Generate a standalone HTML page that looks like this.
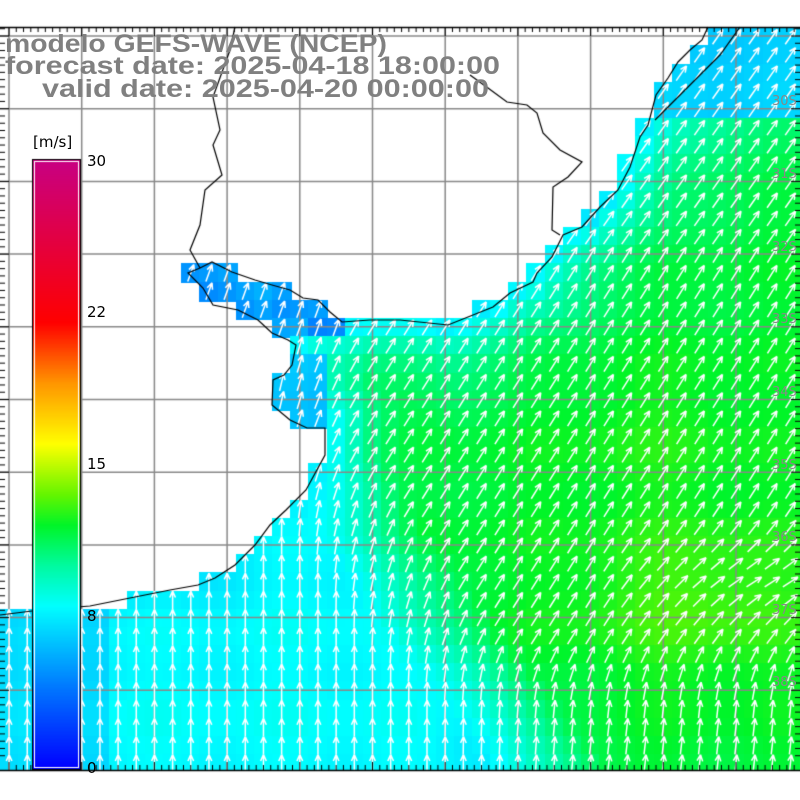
<!DOCTYPE html>
<html><head><meta charset="utf-8"><style>
html,body{margin:0;padding:0;background:#fff;width:800px;height:800px;overflow:hidden}
#c{position:absolute;left:0;top:0}
svg{position:absolute;left:0;top:0}
</style></head><body>
<canvas id="c" width="800" height="800"></canvas>
<svg width="800" height="800" xmlns="http://www.w3.org/2000/svg">
<g font-family="Liberation Sans, DejaVu Sans, sans-serif" font-weight="bold" font-size="25" fill="#808080">
<text x="5" y="52" textLength="382" lengthAdjust="spacingAndGlyphs">modelo GEFS-WAVE (NCEP)</text>
<text x="5" y="74" textLength="495" lengthAdjust="spacingAndGlyphs">forecast date: 2025-04-18 18:00:00</text>
<text x="42" y="97" textLength="447" lengthAdjust="spacingAndGlyphs">valid date: 2025-04-20 00:00:00</text>
</g>
<g font-family="DejaVu Sans, Liberation Sans, sans-serif" font-size="15" fill="#000">
<text x="33" y="147">[m/s]</text>
<text x="87" y="166">30</text>
<text x="87" y="317">22</text>
<text x="87" y="469">15</text>
<text x="87" y="621">8</text>
<text x="87" y="773">0</text>
</g>
<g font-family="DejaVu Sans, sans-serif" font-size="13" fill="#888">
<text x="772" y="105">30S</text><text x="772" y="178">31S</text><text x="772" y="251">32S</text>
<text x="772" y="323">33S</text><text x="772" y="396">34S</text><text x="772" y="469">35S</text>
<text x="772" y="541">36S</text><text x="772" y="614">37S</text><text x="772" y="686">38S</text>
</g>
</svg>
<script>
(function(){
const c=document.getElementById('c'),g=c.getContext('2d');
g.fillStyle='#fff';g.fillRect(0,0,800,800);
const land=[[0,27],[708,27],[702,40],[690,50],[678,62],[668,78],[656,95],[650,112],[642,128],[636,145],[628,162],[615,180],[598,195],[585,215],[567,235],[548,250],[538,265],[522,285],[505,295],[488,300],[465,314],[445,321],[400,320],[370,320],[342,322],[330,312],[318,300],[303,298],[290,290],[272,285],[255,280],[232,272],[212,262],[200,268],[188,273],[203,288],[213,305],[238,310],[258,320],[272,333],[288,340],[296,345],[292,365],[284,375],[273,380],[272,405],[290,420],[307,428],[325,428],[325,455],[306,490],[286,510],[270,525],[255,545],[235,565],[215,578],[198,585],[170,590],[130,598],[90,606],[40,610],[0,615]];
const coast=[[708,27],[702,40],[690,50],[678,62],[668,78],[656,95],[648,125],[640,137],[630,167],[618,190],[600,207],[582,227],[563,235],[552,257],[537,273],[533,282],[510,293],[493,307],[448,325],[400,320],[370,320],[342,322],[330,312],[318,300],[303,298],[290,290],[272,285],[255,280],[232,272],[212,262],[200,268],[188,273],[203,288],[213,305],[238,310],[258,320],[272,333],[288,340],[296,345],[292,365],[284,375],[273,380],[272,405],[290,420],[307,428],[325,428],[325,455],[306,490],[286,510],[270,525],[255,545],[235,565],[215,578],[198,585],[170,590],[130,598],[90,606],[40,610],[0,615]];
g.beginPath();g.moveTo(land[0][0],land[0][1]);for(const p of land)g.lineTo(p[0],p[1]);g.closePath();
function cl(v,a,b){return Math.max(a,Math.min(b,v))}
function dseg(px,py,a,b){const vx=b[0]-a[0],vy=b[1]-a[1];let t=((px-a[0])*vx+(py-a[1])*vy)/(vx*vx+vy*vy);t=cl(t,0,1);const dx=px-a[0]-t*vx,dy=py-a[1]-t*vy;return Math.sqrt(dx*dx+dy*dy);}
function dcoast(x,y){let m=1e9;for(let i=1;i<coast.length;i++)m=Math.min(m,dseg(x,y,coast[i-1],coast[i]));return m;}
function xt(y){return 310+Math.max(0,y-450)*0.75;}
function speed(x,y){
 let s=8.0+3.8*cl((x-xt(y))/120+0.5,0,1);
 s+=1.3*Math.exp(-(((x-700)**2)/(130**2)+((y-600)**2)/(80**2)));
 s+=0.6*Math.exp(-(((x-650)**2)/(120**2)+((y-430)**2)/(80**2)));
 s-=0.8*Math.exp(-(((x-520)**2)/(70**2)+((y-720)**2)/(50**2)));
 s-=1.5*cl((230-y)/200,0,1);
 const d=dcoast(x,y);
 s=s-(s-7.5)*Math.exp(-d/40);
 if(x<110&&y>600)s-=0.9;
 if(x<345&&y<345)s=4.4+((Math.round(x)*7+Math.round(y)*3)%5)*0.3;
 if(x<330&&y>360&&y<440)s=Math.min(s,6.2);
 if(x>650&&y<110)s=Math.min(s,6.6);
 s+=Math.sin(x*0.05)*0.15+Math.cos(y*0.07)*0.15;
 return s;}
const stops=[[0,0,0,255],[4,0,120,255],[8,0,255,255],[10,0,250,160],[12,0,245,40],[13.5,100,245,0],[16,255,255,0],[19,255,150,0],[22,255,0,0],[30,200,0,130]];
function col(v){v=cl(v,0,30);for(let i=1;i<stops.length;i++){if(v<=stops[i][0]){const a=stops[i-1],b=stops[i],t=(v-a[0])/(b[0]-a[0]);return 'rgb('+[1,2,3].map(k=>Math.round(a[k]+(b[k]-a[k])*t)).join(',')+')';}}return 'rgb(200,0,130)';}
function ang(x,y){
 let a=32*cl((x-xt(y))/150+0.6,0,1);
 a+=25*Math.exp(-(((y-580)**2)/(45**2)))*cl((x-600)/150,0,1);
 a*=1-cl((y-640)/60,0,1)*0.8;
 if(y<250&&x>530)a=35;
 if(x<345&&y<345)a=20;
 return a*Math.PI/180;}
const cs=18.17,oy=9.6;
const cells=[];
for(let i=0;i<45;i++)for(let j=-1;j<45;j++){
 const x0=i*cs,y0=oy+j*cs,cx=x0+cs/2,cy=y0+cs/2;
 if(cy<24||cy>775)continue;
 if(g.isPointInPath(cx,cy))continue;
 cells.push([x0,y0,cx,cy]);
}
for(const [x0,y0,cx,cy] of cells){
 g.fillStyle=col(speed(cx,cy));
 const yt=Math.max(y0,27),yb=Math.min(y0+cs,770);
 g.fillRect(Math.floor(x0),Math.floor(yt),Math.ceil(cs)+1,Math.ceil(yb-yt)+1);
}
g.fillStyle='#fff';g.fillRect(0,0,800,27);g.fillRect(0,771,800,29);
g.strokeStyle='#888';g.lineWidth=1.5;
for(let k=0;k<11;k++){const x=9+k*72.7;g.beginPath();g.moveTo(x,27);g.lineTo(x,770);g.stroke();}
for(let k=0;k<10;k++){const y=36+k*72.7;g.beginPath();g.moveTo(0,y);g.lineTo(800,y);g.stroke();}
g.strokeStyle='#fff';g.lineWidth=1.5;
for(const [x0,y0,cx,cy] of cells){
 if(cy<32||cy>766)continue;
 const a=ang(cx,cy),L=18,dx=Math.sin(a),dy=-Math.cos(a);
 const tx=cx-dx*L/2,ty=cy-dy*L/2,hx=cx+dx*L/2,hy=cy+dy*L/2;
 g.beginPath();g.moveTo(tx,ty);g.lineTo(hx,hy);
 for(const s of [-1,1]){const b=a+Math.PI+s*0.42;g.moveTo(hx,hy);g.lineTo(hx+Math.sin(b)*7,hy-Math.cos(b)*7);}
 g.stroke();
}
g.strokeStyle='#000';g.lineWidth=1.2;
g.beginPath();for(let i=0;i<coast.length;i++){const p=coast[i];if(i==0)g.moveTo(p[0],p[1]);else g.lineTo(p[0],p[1]);}g.stroke();
g.beginPath();g.moveTo(235,27);g.lineTo(230,50);g.lineTo(213,97);g.lineTo(220,130);g.lineTo(213,145);g.lineTo(222,175);g.lineTo(205,190);g.lineTo(200,225);g.lineTo(190,250);g.lineTo(200,268);g.stroke();
g.beginPath();g.moveTo(470,75);g.lineTo(488,88);g.lineTo(507,102);g.lineTo(527,105);g.lineTo(537,113);g.lineTo(543,133);g.lineTo(560,150);g.lineTo(582,162);g.lineTo(568,177);g.lineTo(553,187);g.lineTo(552,230);g.lineTo(560,235);g.stroke();
g.beginPath();g.moveTo(740,27);g.lineTo(720,55);g.lineTo(690,85);g.lineTo(655,120);g.stroke();
g.lineWidth=1.5;g.beginPath();g.moveTo(0,27.5);g.lineTo(800,27.5);g.moveTo(0,770.5);g.lineTo(800,770.5);g.stroke();
g.lineWidth=1;g.beginPath();
for(let k=0;k<110;k++){const x=9+k*72.7/10;const big=k%10==0;g.moveTo(x,27);g.lineTo(x,big?36:32);g.moveTo(x,770);g.lineTo(x,big?762:765);}
for(let k=-2;k<100;k++){const y=36+k*72.7/10;if(y<28||y>770)continue;const big=k%10==0;g.moveTo(0,y);g.lineTo(big?9:5,y);g.moveTo(800,y);g.lineTo(big?791:795,y);}
g.stroke();
const cbT=160,cbB=768;
for(let y=cbT;y<=cbB;y++){g.fillStyle=col((cbB-y)/(cbB-cbT)*30);g.fillRect(33,y,47,1);}
g.strokeStyle='#fff';g.lineWidth=1;g.strokeRect(34.5,161.5,44,606);
g.strokeStyle='#000';g.strokeRect(32.5,159.5,48,610);
})();
</script>
</body></html>
